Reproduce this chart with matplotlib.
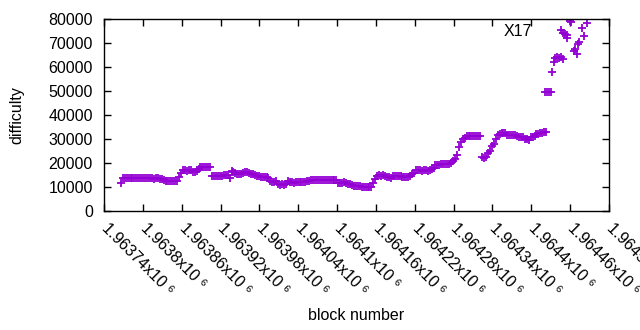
import numpy as np
import matplotlib
matplotlib.use("Agg")
import matplotlib.pyplot as plt
from matplotlib.ticker import FuncFormatter, MultipleLocator

plt.rcParams['font.family'] = ['Liberation Sans', 'DejaVu Sans']
plt.rcParams['font.size'] = 11.5

# main run of blocks, one reading every 3 blocks
first_block = 1963766
block_step = 3
difficulty = [
    11500,
    13600, 13700, 13600, 13600, 13700, 13600, 13600, 13600, 13700, 13600,
    13600, 13600, 13700, 13600, 13600, 13600, 13500, 13600, 13600,
    13200, 13200, 13100,
    12700, 12600, 12600, 12500, 12600, 12600, 12700,
    14300,
    15800, 16900, 17200, 16800, 17000, 17100,
    16300, 16400, 16500,
    17600,
    18300, 18500, 18400, 18500, 18400, 18500,
    14600, 14400, 14500, 14600, 14500, 14700,
    15000, 15100, 15000, 13700,
    16500, 16300, 15900,
    15400, 15300, 15500,
    16000, 16200, 16300, 16000,
    15500, 15300, 15200,
    14700, 14500,
    14100, 14000, 14000, 14100, 13900,
    12500, 12200, 12100, 12300,
    11200, 11000, 11100, 11000, 11200,
    12300, 12100, 11900,
    11800, 11900,
    12000, 12100, 11900, 12000, 12200,
    12500, 12600,
    12900, 12900, 13000, 12900, 12900, 12900, 13000, 12900, 12800, 12900,
    12900, 13000, 12900, 12800,
    11600, 11500,
    11800, 11900, 11700,
    11200, 11100, 11000,
    10600, 10500, 10400, 10500,
    9900, 9800, 9900, 9900, 9800, 10000,
    11500, 13200,
    14600, 14800, 14700, 14900, 14600,
    14000, 14100, 13900,
    14600, 14500, 14700, 14600, 14500,
    14000, 14100,
    14300, 14200, 14400,
    15600, 15900,
    17000, 16900, 17000, 16800, 16900, 17000, 16800, 16900,
    17700, 17900,
    19100, 19300, 19200,
    19500, 19400, 19600, 19500, 19400, 19800,
    20800, 21500,
    23300,
    26500,
    28900,
    30100, 30600,
    31200, 31300, 31200, 31300, 31200, 31300, 31200, 31300,
    22500, 22000, 22600,
    24300, 25000,
    26900, 28000,
    29900,
    31500, 31900,
    32600, 32700, 32500,
    31700, 31600, 31800, 31700, 31600,
    31100, 31000, 30900, 31000,
    30000, 29800, 29700,
    30900, 31000, 31200,
    32000, 32100, 32300,
    32600, 32800, 33000,
]

# scattered tail after the jump
tail_blocks = [1964421, 1964424, 1964427, 1964430, 1964432, 1964435,
               1964437, 1964440, 1964443, 1964446, 1964449, 1964449,
               1964452, 1964455, 1964455, 1964460, 1964461, 1964466,
               1964467, 1964471, 1964472, 1964474, 1964478, 1964481,
               1964486]
tail_difficulty = [49700, 49600, 49700, 49600, 57800, 62000,
                   63600, 64000, 63900, 64100, 63200, 74000,
                   73700, 73300, 72200, 79100, 78900, 66800,
                   67400, 65300, 69500, 70500, 76100, 72900,
                   78500]

blocks = first_block + block_step * np.arange(len(difficulty))
x = np.concatenate([blocks, tail_blocks])
y = np.concatenate([difficulty, tail_difficulty])

fig = plt.figure(figsize=(6.4, 3.3), dpi=100)
ax = fig.add_axes([104 / 640, 1 - 211 / 330, 505 / 640, 192 / 330])

ax.plot(x, y, '+', color='#9400D3', ms=5.5, mew=1.3, label='X17')

ax.set_xlim(1963740, 1964520)
ax.set_ylim(0, 80000)
ax.xaxis.set_major_locator(MultipleLocator(60))
ax.yaxis.set_major_locator(MultipleLocator(10000))
ax.xaxis.set_major_formatter(FuncFormatter(lambda v, p: f"{v / 1e6:g}x10 \u2076"))
ax.tick_params(direction='in', length=5, width=1, top=True, right=True)
ax.tick_params(axis='y', pad=8)
ax.tick_params(axis='x', pad=11)
for lab in ax.get_xticklabels():
    lab.set_rotation(-45)
    lab.set_ha('left')
    lab.set_va('center')
    lab.set_rotation_mode('anchor')
for s in ax.spines.values():
    s.set_linewidth(1)

ax.set_ylabel('difficulty')
ax.yaxis.set_label_coords(-0.158, 0.5)
ax.set_xlabel('block number')
ax.xaxis.set_label_coords(0.5, -0.505)

ax.legend(loc='upper right', bbox_to_anchor=(577 / 640, 1 - 24 / 330),
          bbox_transform=fig.transFigure, frameon=False, markerfirst=False,
          numpoints=1, borderpad=0, borderaxespad=0, handletextpad=0.8,
          handlelength=2.0)

fig.savefig('out.png', dpi=100)
